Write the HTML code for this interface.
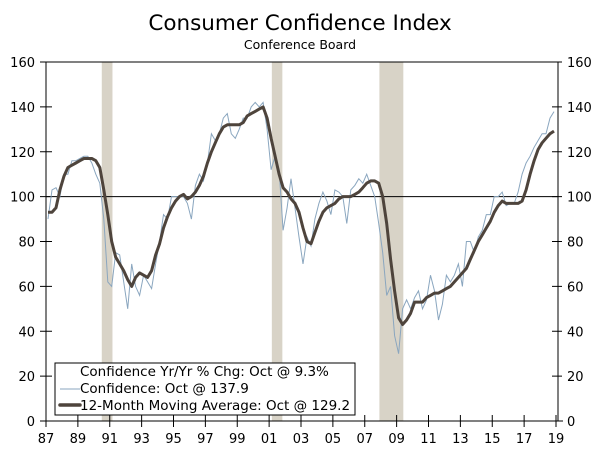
<!DOCTYPE html>
<html><head><meta charset="utf-8"><style>
body{margin:0;background:#fff;}
svg{display:block;font-family:"DejaVu Sans","Liberation Sans",sans-serif;}
</style></head><body>
<svg id="chart" width="600" height="453" viewBox="0 0 600 453">
<text x="300" y="30" text-anchor="middle" font-size="21.5" fill="#000">Consumer Confidence Index</text>
<text x="300" y="49" text-anchor="middle" font-size="12.5" fill="#000">Conference Board</text>
<g id="rec"></g>
<g id="grid"></g>
<g id="series"></g>
<g>
<rect x="55" y="363" width="300" height="52" fill="#fff" stroke="#000" stroke-width="1"/>
<text x="80" y="376" font-size="13.5">Confidence Yr/Yr % Chg: Oct @ 9.3%</text>
<line x1="60" y1="389" x2="80" y2="389" stroke="#8aa6bf" stroke-width="1"/>
<text x="80" y="393" font-size="13.5">Confidence: Oct @ 137.9</text>
<line x1="60" y1="405" x2="80" y2="405" stroke="#4e443c" stroke-width="3.5" stroke-linecap="round"/>
<text x="80" y="410" font-size="13.5">12-Month Moving Average: Oct @ 129.2</text>
</g>
</svg>
<script>
const yTicks=[0,20,40,60,80,100,120,140,160];
const xTickLabels=["87","89","91","93","95","97","99","01","03","05","07","09","11","13","15","17","19"];
const recessions=[[1990.5,1991.17],[2001.17,2001.83],[2007.92,2009.42]];
const confidence=[90,103,104,100, 110,110,116,116, 117,118,118,115, 110,106,90,62, 60,75,74,62, 50,70,60,56, 65,62,59,70, 80,92,90,100, 100,100,100,97, 90,105,110,107, 115,128,125,128, 135,137,128,126, 130,135,135,140, 142,140,142,130, 112,118,112,85, 95,108,95,82, 70,82,78,90, 97,102,98,92, 103,102,100,88, 103,105,108,106, 110,105,100,88, 75,56,60,38, 30,50,54,50, 55,58,50,54, 65,58,45,52, 65,62,65,70, 60,80,80,75, 82,85,92,92, 100,100,102,96, 97,97,102,110, 115,118,122,125, 128,128,135,137.9];
const movingAvg=[93,93,95,103, 109,113,114,115, 116,117,117,117, 116,113,103,92, 80,73,70,67, 63,60,64,66, 65,64,67,74, 79,86,91,95, 98,100,101,99, 100,102,105,109, 115,120,124,128, 131,132,132,132, 132,133,136,137, 138,139,140,135, 126,118,110,104, 102,99,97,93, 86,80,79,84, 89,93,95,96, 97,99,100,100, 100,101,102,104, 106,107,107,106, 100,88,72,58, 46,43,45,48, 53,53,53,55, 56,57,57,58, 59,60,62,64, 66,68,72,76, 80,83,86,89, 93,96,98,97, 97,97,97,98, 103,110,116,121, 124,126,128,129.2];
const X0=46,X1=556,Y0=421,Y1=62;
const xs=t=>X0+(t-1987)/32*(X1-X0);
const ys=v=>Y0-v/160*(Y0-Y1);
const NS="http://www.w3.org/2000/svg";
function mk(tag,attrs,parent){const e=document.createElementNS(NS,tag);for(const k in attrs)e.setAttribute(k,attrs[k]);parent.appendChild(e);return e;}
const rec=document.getElementById('rec'),grid=document.getElementById('grid'),ser=document.getElementById('series');
recessions.forEach(r=>{const e=mk('rect',{x:xs(r[0]),y:Y1,width:xs(r[1])-xs(r[0]),height:Y0-Y1,fill:'#d8d3c7'},rec);

});
mk('line',{x1:X0,y1:Y1,x2:X1+2,y2:Y1,stroke:'#000','stroke-width':1},grid);
mk('line',{x1:X0,y1:Y1,x2:X0,y2:Y0,stroke:'#000','stroke-width':1},grid);
mk('line',{x1:X1+2,y1:Y1,x2:X1+2,y2:Y0,stroke:'#000','stroke-width':1},grid);
mk('line',{x1:X0-5,y1:Y0,x2:X1+7,y2:Y0,stroke:'#000','stroke-width':1},grid);
mk('line',{x1:X0,y1:ys(100),x2:X1+2,y2:ys(100),stroke:'#000','stroke-width':1},grid);
yTicks.forEach(v=>{const y=ys(v);
mk('line',{x1:X0-6,y1:y,x2:X0+6,y2:y,stroke:'#000'},grid);
mk('line',{x1:X1-4,y1:y,x2:X1+6,y2:y,stroke:'#000'},grid);
const a=mk('text',{x:35,y:y+5,'text-anchor':'end','font-size':13},grid);a.textContent=v;


const b=mk('text',{x:567,y:y+5,'font-size':13},grid);b.textContent=v;

});
xTickLabels.forEach((l,i)=>{const x=xs(1987+2*i);
mk('line',{x1:x,y1:Y0-6,x2:x,y2:Y0+6,stroke:'#000'},grid);
const t=mk('text',{x:x,y:443,'text-anchor':'middle','font-size':13},grid);t.textContent=l;

});
function path(arr){return arr.map((v,i)=>(i?'L':'M')+xs(1987+i/4+0.125).toFixed(1)+' '+ys(v).toFixed(1)).join(' ');}
const c=mk('path',{d:path(confidence),fill:'none',stroke:'#8aa6bf','stroke-width':1},ser);


const m=mk('path',{d:path(movingAvg),fill:'none',stroke:'#4e443c','stroke-width':3,'stroke-linejoin':'round'},ser);


</script>
</body></html>
